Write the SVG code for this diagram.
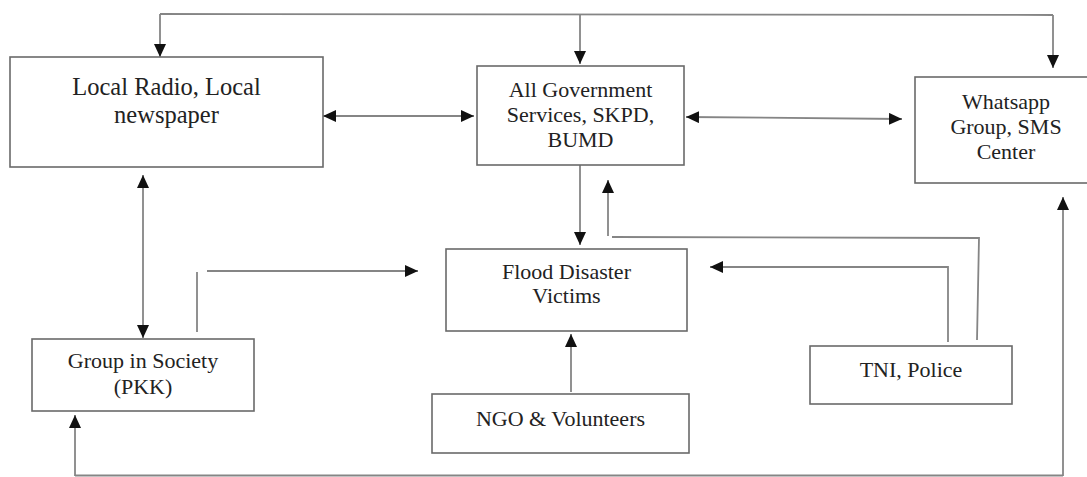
<svg xmlns="http://www.w3.org/2000/svg" width="1087" height="477" viewBox="0 0 1087 477">
<defs>
<style>
.box{fill:#fff;stroke:#6a6a6a;stroke-width:1.6}
.lbl{font-family:"Liberation Serif","Times New Roman",serif;font-size:22px;fill:#222;text-anchor:middle}
.big{font-size:24.5px}
.ln{fill:none;stroke:#858585;stroke-width:1.8}
.ar{marker-end:url(#ah)}
.ar2{marker-start:url(#ah);marker-end:url(#ah)}
</style>
<marker id="ah" viewBox="0 0 13 12" refX="13" refY="6" markerWidth="13" markerHeight="12" markerUnits="userSpaceOnUse" orient="auto-start-reverse">
<path d="M0,0 L13,6 L0,12 z" fill="#111"/>
</marker>
</defs>
<rect width="1087" height="477" fill="#fff"/>
<g id="connectors">
<polyline class="ln" points="160,14 1053,15"/>
<line class="ln ar" x1="160" y1="14" x2="160" y2="57"/>
<line class="ln ar" x1="580" y1="14" x2="580" y2="64"/>
<line class="ln ar" x1="1053" y1="15" x2="1053" y2="68"/>
<line class="ln ar2" x1="323" y1="116" x2="474" y2="116"/>
<line class="ln ar2" x1="686" y1="117" x2="902" y2="119"/>
<line class="ln ar2" x1="143" y1="175" x2="143" y2="338"/>
<line class="ln ar" x1="580" y1="165" x2="580" y2="245"/>
<polyline class="ln" points="977,340 979,238 612,237"/>
<line class="ln ar" x1="608" y1="236" x2="608" y2="180"/>
<polyline class="ln ar" points="948,342 948,267 710,267"/>
<line class="ln" x1="197" y1="332" x2="197" y2="272"/>
<line class="ln ar" x1="207" y1="271" x2="418" y2="271"/>
<line class="ln ar" x1="571" y1="392" x2="571" y2="334"/>
<line class="ln" x1="75" y1="475.5" x2="1063" y2="475.5"/>
<line class="ln ar" x1="75" y1="476" x2="75" y2="415"/>
<line class="ln ar" x1="1063" y1="476" x2="1063" y2="197"/>
</g>
<g id="local-radio">
<rect class="box" x="10" y="57" width="313" height="110"/>
<text class="lbl big" x="166.5" y="95">Local Radio, Local</text>
<text class="lbl big" x="166.5" y="123">newspaper</text>
</g>
<g id="government">
<rect class="box" x="477" y="66" width="207" height="99"/>
<text class="lbl" x="580.5" y="97">All Government</text>
<text class="lbl" x="580.5" y="122">Services, SKPD,</text>
<text class="lbl" x="580.5" y="147">BUMD</text>
</g>
<g id="whatsapp">
<rect class="box" x="915" y="77" width="182" height="106"/>
<text class="lbl" x="1006" y="109">Whatsapp</text>
<text class="lbl" x="1006" y="134">Group, SMS</text>
<text class="lbl" x="1006" y="159">Center</text>
</g>
<g id="flood-victims">
<rect class="box" x="446" y="249" width="241" height="82"/>
<text class="lbl" x="566.5" y="279">Flood Disaster</text>
<text class="lbl" x="566.5" y="303">Victims</text>
</g>
<g id="group-society">
<rect class="box" x="32" y="339" width="222" height="72"/>
<text class="lbl" x="143" y="368">Group in Society</text>
<text class="lbl" x="143" y="394">(PKK)</text>
</g>
<g id="ngo">
<rect class="box" x="432" y="394" width="257" height="59"/>
<text class="lbl" x="560.5" y="426">NGO &amp; Volunteers</text>
</g>
<g id="tni-police">
<rect class="box" x="810" y="346" width="202" height="58"/>
<text class="lbl" x="911" y="377">TNI, Police</text>
</g>
</svg>
